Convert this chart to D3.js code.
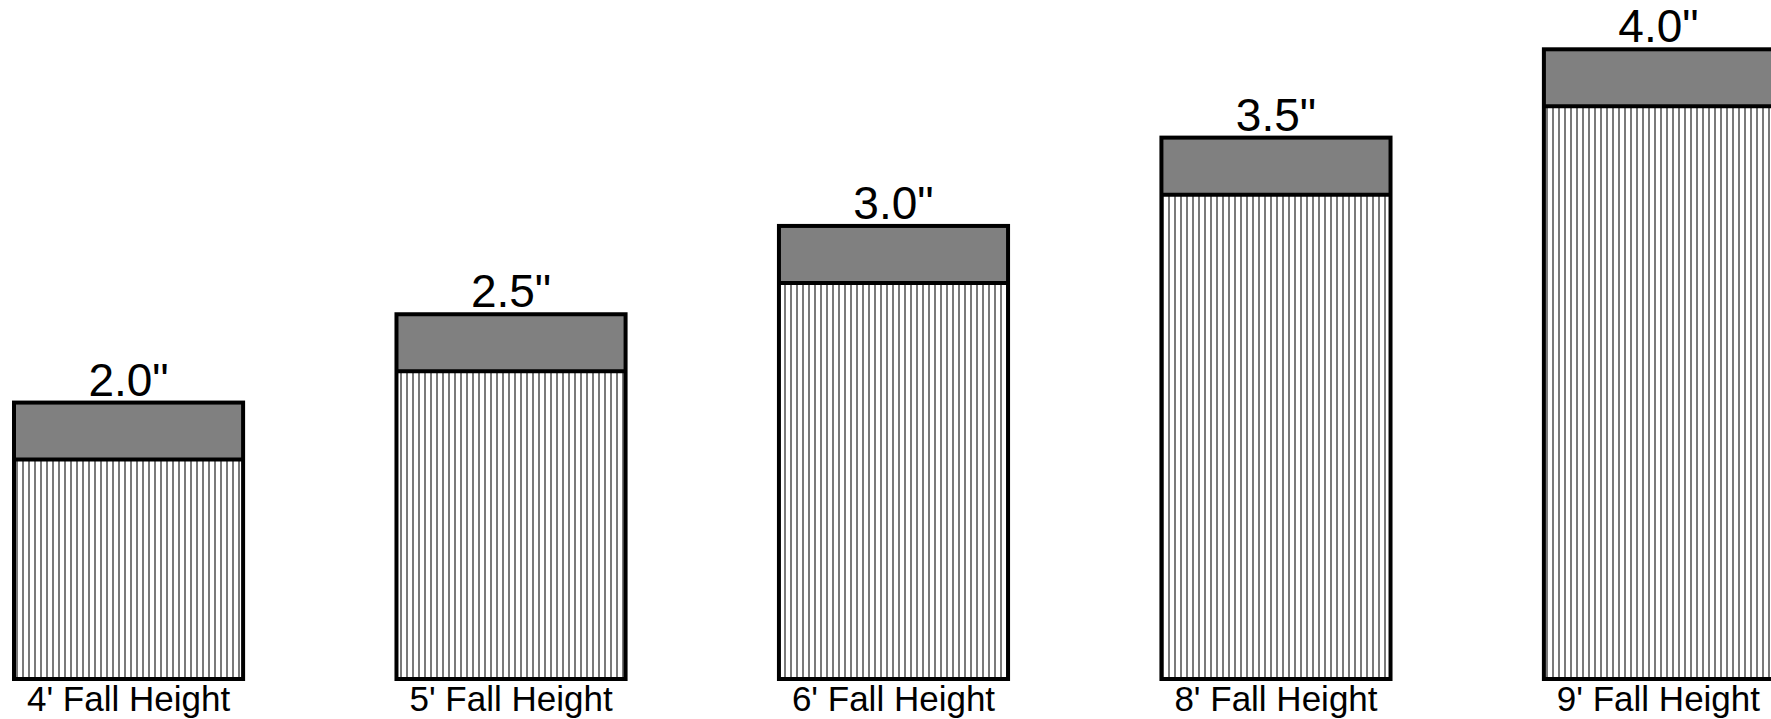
<!DOCTYPE html>
<html lang="en">
<head>
    <meta charset="UTF-8">
    <title>Fall Height vs Depth</title>
    <script src="https://d3js.org/d3.v7.min.js"></script>
    <style>
        body { margin: 0; background: #fff; }
        svg { display: block; }
        .depth-label {
            font-family: "Liberation Sans", Arial, sans-serif;
            font-size: 46px;
            text-anchor: middle;
        }
        .height-label {
            font-family: "Liberation Sans", Arial, sans-serif;
            font-size: 35px;
            text-anchor: middle;
        }
    </style>
</head>
<body>
<svg width="1771" height="719"></svg>
<script>
    const width = 1771;
    const height = 719;

    // data
    const fallHeights = ["4' Fall Height", "5' Fall Height", "6' Fall Height", "8' Fall Height", "9' Fall Height"];
    const depths = [2.0, 2.5, 3.0, 3.5, 4.0];
    const depthLabels = ['2.0"', '2.5"', '3.0"', '3.5"', '4.0"'];
    const capDepth = 0.323;

    const bars = fallHeights.map((name, i) => ({ name, depth: depths[i], label: depthLabels[i] }));

    const x = d3.scaleBand()
        .domain(fallHeights)
        .range([14, 1773])
        .paddingInner(0.401)
        .paddingOuter(0);

    const y = d3.scaleLinear()
        .domain([0.435, 4.0])
        .range([679, 49.3]);

    const svg = d3.select("svg");

    svg.append("defs").append("pattern")
        .attr("id", "stripes")
        .attr("patternUnits", "userSpaceOnUse")
        .attr("width", 6)
        .attr("height", 10)
        .append("rect")
        .attr("x", 4)
        .attr("y", 0)
        .attr("width", 2)
        .attr("height", 10)
        .attr("fill", "#7a7a7a");

    const g = svg.append("g")
        .selectAll("g")
        .data(bars)
        .enter().append("g");

    // striped lower part
    g.append("rect")
        .attr("x", d => x(d.name))
        .attr("y", d => y(d.depth - capDepth))
        .attr("width", x.bandwidth())
        .attr("height", d => y(y.domain()[0]) - y(d.depth - capDepth))
        .attr("fill", "url(#stripes)");

    // gray top layer
    g.append("rect")
        .attr("x", d => x(d.name))
        .attr("y", d => y(d.depth))
        .attr("width", x.bandwidth())
        .attr("height", d => y(d.depth - capDepth) - y(d.depth))
        .attr("fill", "#808080");

    g.append("line")
        .attr("x1", d => x(d.name))
        .attr("x2", d => x(d.name) + x.bandwidth())
        .attr("y1", d => y(d.depth - capDepth))
        .attr("y2", d => y(d.depth - capDepth))
        .attr("stroke", "#000")
        .attr("stroke-width", 4);

    // outline
    g.append("rect")
        .attr("x", d => x(d.name))
        .attr("y", d => y(d.depth))
        .attr("width", x.bandwidth())
        .attr("height", d => y(y.domain()[0]) - y(d.depth))
        .attr("fill", "none")
        .attr("stroke", "#000")
        .attr("stroke-width", 4);

    g.append("text")
        .attr("class", "depth-label")
        .attr("x", d => x(d.name) + x.bandwidth() / 2)
        .attr("y", d => y(d.depth) - 7)
        .text(d => d.label);

    g.append("text")
        .attr("class", "height-label")
        .attr("x", d => x(d.name) + x.bandwidth() / 2)
        .attr("y", 711)
        .text(d => d.name);
</script>
</body>
</html>
